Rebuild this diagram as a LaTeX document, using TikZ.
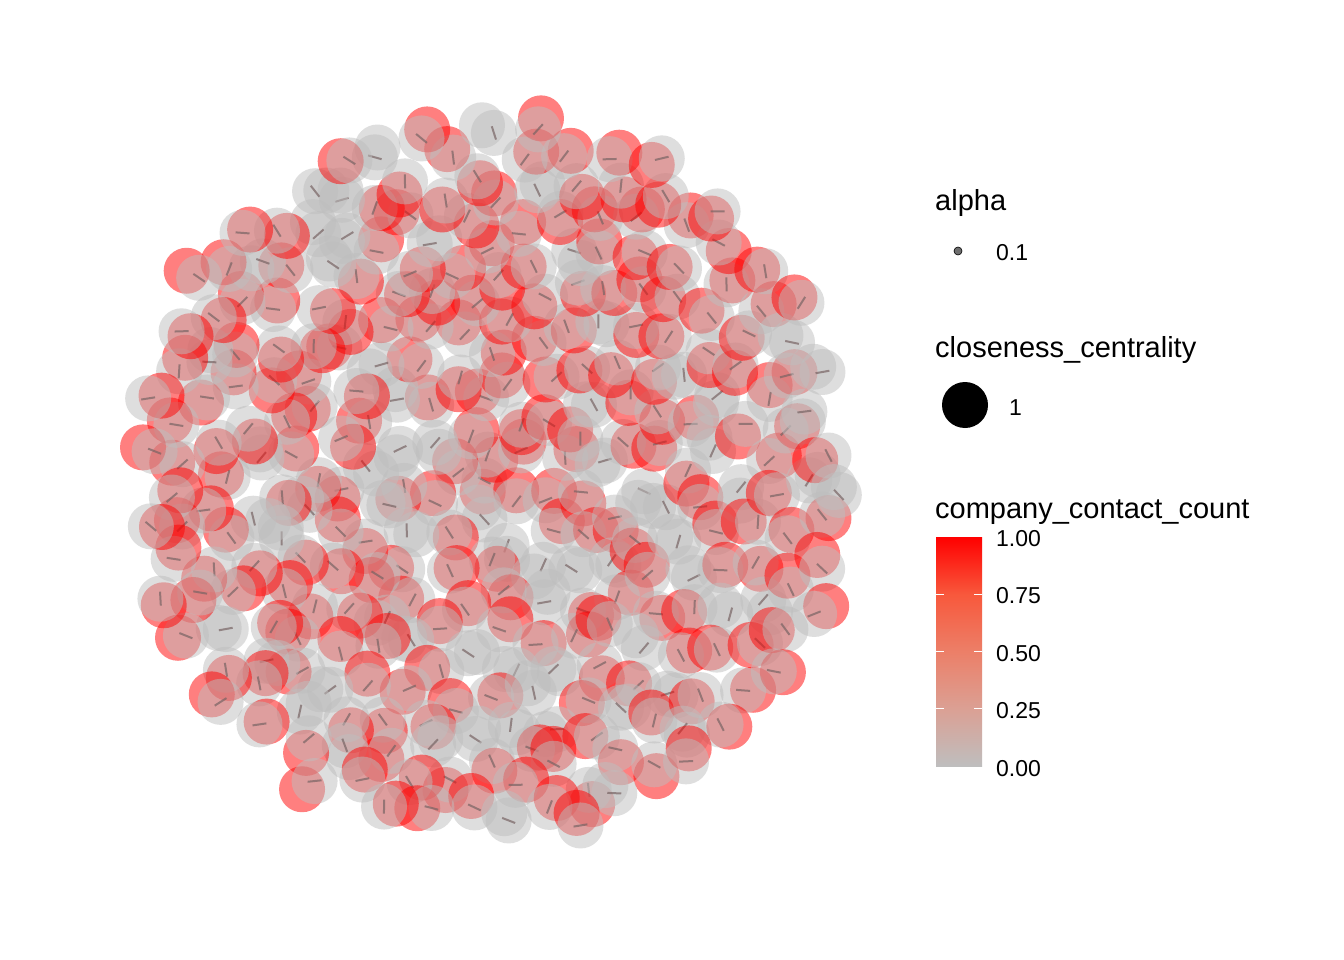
\documentclass[tikz,border=0pt]{standalone}
\usepackage{fontspec}
\setmainfont{Liberation Sans}
\definecolor{gry}{RGB}{190,190,190}
\definecolor{cA}{RGB}{190,190,190}
\definecolor{cB}{RGB}{219,160,148}
\definecolor{cC}{RGB}{236,127,104}
\definecolor{cD}{RGB}{248,88,60}
\definecolor{cE}{RGB}{255,0,0}
\definecolor{dotc}{RGB}{110,110,110}
\definecolor{edgec}{RGB}{120,100,100}
\pgfdeclareverticalshading{ccbar}{100bp}{color(0bp)=(cA); color(25bp)=(cA); color(37.5bp)=(cB); color(50bp)=(cC); color(62.5bp)=(cD); color(75bp)=(cE); color(100bp)=(cE)}
\tikzset{
  redfill/.style={fill=red, fill opacity=0.5},
  greyfill/.style={fill=gry, fill opacity=0.5},
  dashline/.style={draw=edgec, line width=2pt, draw opacity=0.7},
  ttl/.style={anchor=base west, inner sep=0pt, font=\fontsize{29}{34}\selectfont},
  lbl/.style={anchor=base west, inner sep=0pt, font=\fontsize{23}{27}\selectfont},
  tickw/.style={draw=white, line width=1.2pt}
}
\begin{document}
\begin{tikzpicture}[x=1pt,y=-1pt]
\useasboundingbox (0,0) rectangle (1344,960);
\fill[white] (0,0) rectangle (1344,960);
\pgfmathsetseed{31}
\foreach \i in {1,...,300}{
  \pgfmathsetmacro\rr{357*sqrt((\i-0.5)/300)}
  \pgfmathsetmacro\th{360*mod(\i*0.381966,1)}
  \pgfmathsetmacro\px{491+\rr*cos(\th)+7*rand}
  \pgfmathsetmacro\py{477+\rr*sin(\th)+7*rand}
  \pgfmathsetmacro\kind{rnd}
  \pgfmathsetmacro\oa{360*rnd}
  \pgfmathsetmacro\od{7+8*rnd}
  \pgfmathsetmacro\qx{\px+\od*cos(\oa)}
  \pgfmathsetmacro\qy{\py+\od*sin(\oa)}
  \pgfmathsetmacro\da{360*rnd}
  \pgfmathsetmacro\ax{\px+7*cos(\da)}
  \pgfmathsetmacro\ay{\py+7*sin(\da)}
  \pgfmathsetmacro\bx{\px-7*cos(\da)}
  \pgfmathsetmacro\by{\py-7*sin(\da)}
  \ifdim\kind pt<0.76pt
    \fill[redfill] (\qx,\qy) circle (23pt);
  \else
    \fill[greyfill] (\qx,\qy) circle (23pt);
  \fi
  \fill[greyfill] (\px,\py) circle (23pt);
  \draw[dashline] (\ax,\ay) -- (\bx,\by);
}
% legend: alpha
\node[ttl] (talpha) at (935,211) {alpha};
\fill[dotc, draw=black, line width=0.6pt] (958,251) circle (4pt);
\node[lbl] (lalpha) at (996,261) {0.1};
% legend: closeness
\node[ttl] (tclose) at (935,357) {closeness\_centrality};
\fill[black] (965,405) circle (23pt);
\node[lbl] (lclose) at (1009,415) {1};
% legend: company contact count
\node[ttl] (tcomp) at (935,518) {company\_contact\_count};
\shade[shading=ccbar] (936,537) rectangle (982,766);
\foreach \t in {594.25,651.5,708.75}{
  \draw[tickw] (936,\t) -- (944,\t);
  \draw[tickw] (974,\t) -- (982,\t);
}
\node[lbl] (l100) at (996,546) {1.00};
\node[lbl] (l075) at (996,603.5) {0.75};
\node[lbl] (l050) at (996,661) {0.50};
\node[lbl] (l025) at (996,718.5) {0.25};
\node[lbl] (l000) at (996,776) {0.00};
\end{tikzpicture}
\end{document}
